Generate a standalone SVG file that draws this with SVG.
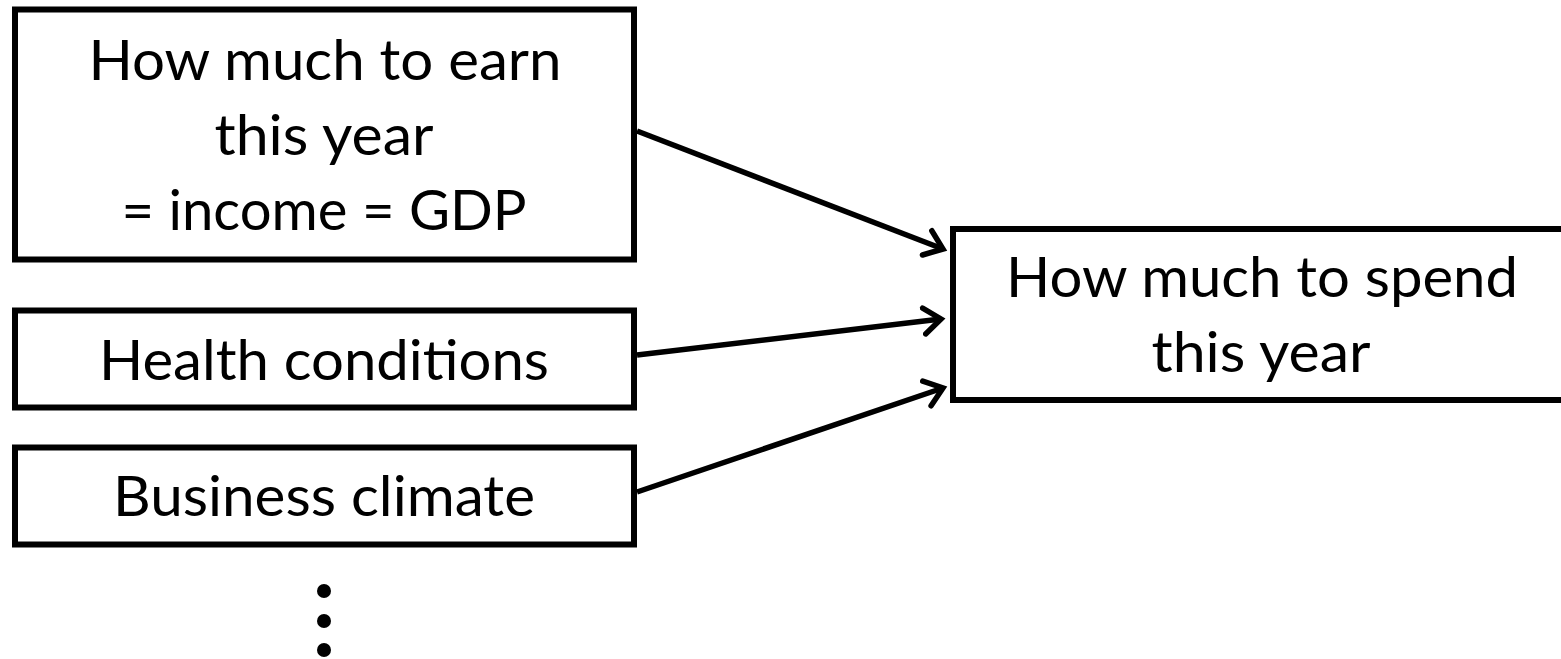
<svg xmlns="http://www.w3.org/2000/svg" width="1561" height="659" viewBox="0 0 1561 659">
  <style>
    .box { fill: #ffffff; stroke: #000000; stroke-width: 6; }
    .label { font-family: Lato, "Liberation Sans", sans-serif; font-size: 57px; fill: #000000; text-anchor: middle; }
    .edge { fill: none; stroke: #000000; stroke-width: 5.5; marker-end: url(#chevron); }
    .dot { fill: #000000; }
  </style>
  <defs>
    <marker id="chevron" markerUnits="userSpaceOnUse" markerWidth="40" markerHeight="40" viewBox="-20 -20 40 40" refX="0" refY="0" orient="auto">
      <path d="M-17,-13 L0,0 L-17,13" fill="none" stroke="#000000" stroke-width="5.5" stroke-linecap="round" stroke-linejoin="miter"/>
    </marker>
  </defs>

  <rect width="1561" height="659" fill="#ffffff"/>

  <!-- connectors -->
  <g id="connectors">
    <line class="edge" x1="637" y1="131" x2="943" y2="249"/>
    <line class="edge" x1="637" y1="355" x2="941" y2="319"/>
    <line class="edge" x1="637" y1="492" x2="943" y2="388"/>
  </g>

  <!-- inputs -->
  <g id="node-earn">
    <rect class="box" x="15" y="9.5" width="619" height="250"/>
    <text class="label" x="325" y="80" textLength="473" lengthAdjust="spacingAndGlyphs">How much to earn</text>
    <text class="label" x="324" y="155" textLength="219" lengthAdjust="spacingAndGlyphs">this year</text>
    <text class="label" x="324" y="230" textLength="405" lengthAdjust="spacingAndGlyphs">= income = GDP</text>
  </g>

  <g id="node-health">
    <rect class="box" x="15" y="310.5" width="619" height="97"/>
    <text class="label" x="324" y="380" textLength="450" lengthAdjust="spacingAndGlyphs">Health conditions</text>
  </g>

  <g id="node-business">
    <rect class="box" x="15" y="447.5" width="619" height="97"/>
    <text class="label" x="324" y="516" textLength="422" lengthAdjust="spacingAndGlyphs">Business climate</text>
  </g>

  <!-- output -->
  <g id="node-spend">
    <rect class="box" x="953" y="229" width="620" height="171"/>
    <text class="label" x="1262" y="297" textLength="512" lengthAdjust="spacingAndGlyphs">How much to spend</text>
    <text class="label" x="1261" y="372" textLength="219" lengthAdjust="spacingAndGlyphs">this year</text>
  </g>

  <!-- more inputs -->
  <g id="ellipsis">
    <circle class="dot" cx="324" cy="591" r="7"/>
    <circle class="dot" cx="324" cy="621" r="7"/>
    <circle class="dot" cx="324" cy="650" r="7"/>
  </g>
</svg>
